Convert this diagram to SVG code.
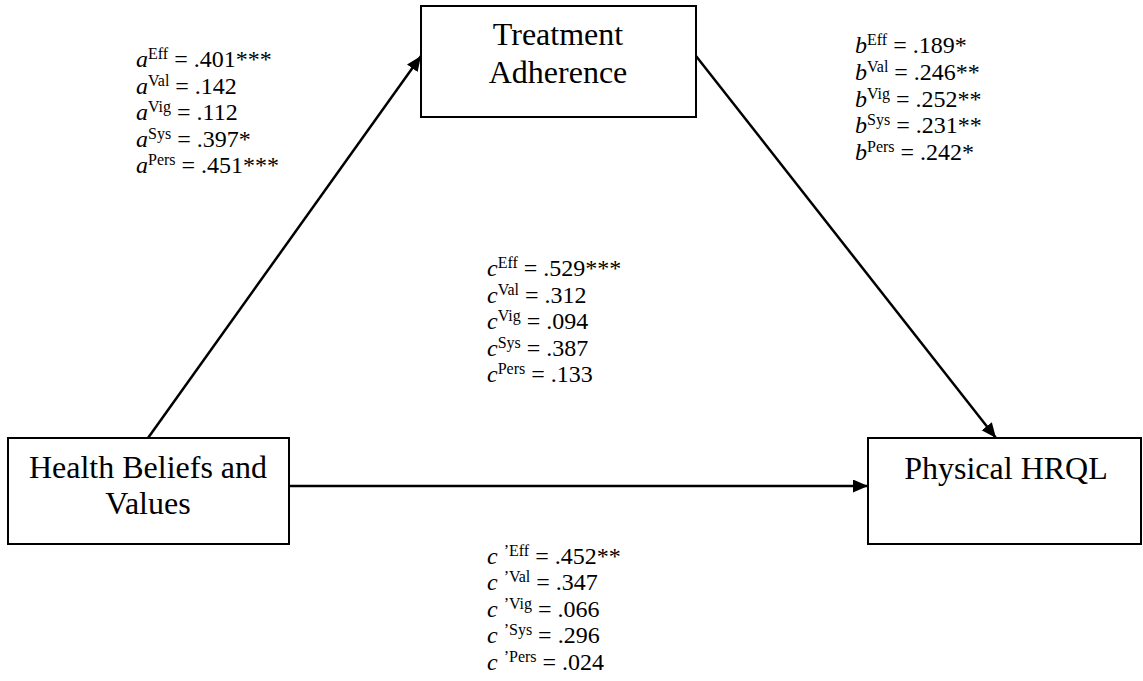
<svg xmlns="http://www.w3.org/2000/svg" width="1143" height="681" viewBox="0 0 1143 681">
<style>
.box{fill:#fff;stroke:#000;stroke-width:2}
.node{font-family:"Liberation Serif","Times New Roman",serif;font-size:32px;fill:#000;text-anchor:middle}
.lab{font-family:"Liberation Serif","Times New Roman",serif;font-size:24px;fill:#000}
.it{font-style:italic}
.sup{font-size:16px}
.edge{stroke:#000;stroke-width:2.5;fill:none;marker-end:url(#ah)}
</style>
<defs>
<marker id="ah" markerUnits="userSpaceOnUse" markerWidth="16" markerHeight="14" refX="15" refY="6.5" orient="auto">
<path d="M0,0 L15,6.5 L0,13 z" fill="#000"/>
</marker>
</defs>
<rect width="1143" height="681" fill="#fff"/>
<g id="connectors">
<line class="edge" x1="148" y1="438" x2="421" y2="56"/>
<line class="edge" x1="696" y1="56" x2="996" y2="438"/>
<line class="edge" x1="289" y1="486" x2="868" y2="486"/>
</g>
<g id="treatment">
<rect class="box" x="421" y="6" width="275" height="111"/>
<text class="node" x="558" y="45">Treatment</text>
<text class="node" x="558" y="83">Adherence</text>
</g>
<g id="health">
<rect class="box" x="8" y="438" width="281" height="106"/>
<text class="node" x="148" y="478">Health Beliefs and</text>
<text class="node" x="148" y="514">Values</text>
</g>
<g id="physical">
<rect class="box" x="868" y="438" width="273" height="106"/>
<text class="node" x="1006" y="479">Physical HRQL</text>
</g>
<g id="labels-a">
<text class="lab" x="136" y="67"><tspan class="it">a</tspan><tspan class="sup" dy="-8">Eff</tspan><tspan dy="8"> = .401***</tspan></text>
<text class="lab" x="136" y="94"><tspan class="it">a</tspan><tspan class="sup" dy="-8">Val</tspan><tspan dy="8"> = .142</tspan></text>
<text class="lab" x="136" y="120"><tspan class="it">a</tspan><tspan class="sup" dy="-8">Vig</tspan><tspan dy="8"> = .112</tspan></text>
<text class="lab" x="136" y="147"><tspan class="it">a</tspan><tspan class="sup" dy="-8">Sys</tspan><tspan dy="8"> = .397*</tspan></text>
<text class="lab" x="136" y="173"><tspan class="it">a</tspan><tspan class="sup" dy="-8">Pers</tspan><tspan dy="8"> = .451***</tspan></text>
</g>
<g id="labels-b">
<text class="lab" x="855" y="53"><tspan class="it">b</tspan><tspan class="sup" dy="-8">Eff</tspan><tspan dy="8"> = .189*</tspan></text>
<text class="lab" x="855" y="80"><tspan class="it">b</tspan><tspan class="sup" dy="-8">Val</tspan><tspan dy="8"> = .246**</tspan></text>
<text class="lab" x="855" y="107"><tspan class="it">b</tspan><tspan class="sup" dy="-8">Vig</tspan><tspan dy="8"> = .252**</tspan></text>
<text class="lab" x="855" y="133"><tspan class="it">b</tspan><tspan class="sup" dy="-8">Sys</tspan><tspan dy="8"> = .231**</tspan></text>
<text class="lab" x="855" y="160"><tspan class="it">b</tspan><tspan class="sup" dy="-8">Pers</tspan><tspan dy="8"> = .242*</tspan></text>
</g>
<g id="labels-c">
<text class="lab" x="487" y="276"><tspan class="it">c</tspan><tspan class="sup" dy="-8">Eff</tspan><tspan dy="8"> = .529***</tspan></text>
<text class="lab" x="487" y="303"><tspan class="it">c</tspan><tspan class="sup" dy="-8">Val</tspan><tspan dy="8"> = .312</tspan></text>
<text class="lab" x="487" y="329"><tspan class="it">c</tspan><tspan class="sup" dy="-8">Vig</tspan><tspan dy="8"> = .094</tspan></text>
<text class="lab" x="487" y="356"><tspan class="it">c</tspan><tspan class="sup" dy="-8">Sys</tspan><tspan dy="8"> = .387</tspan></text>
<text class="lab" x="487" y="382"><tspan class="it">c</tspan><tspan class="sup" dy="-8">Pers</tspan><tspan dy="8"> = .133</tspan></text>
</g>
<g id="labels-cprime">
<text class="lab" x="487" y="564"><tspan class="it">c</tspan><tspan> </tspan><tspan class="sup" dy="-8">’Eff</tspan><tspan dy="8"> = .452**</tspan></text>
<text class="lab" x="487" y="590"><tspan class="it">c</tspan><tspan> </tspan><tspan class="sup" dy="-8">’Val</tspan><tspan dy="8"> = .347</tspan></text>
<text class="lab" x="487" y="617"><tspan class="it">c</tspan><tspan> </tspan><tspan class="sup" dy="-8">’Vig</tspan><tspan dy="8"> = .066</tspan></text>
<text class="lab" x="487" y="643"><tspan class="it">c</tspan><tspan> </tspan><tspan class="sup" dy="-8">’Sys</tspan><tspan dy="8"> = .296</tspan></text>
<text class="lab" x="487" y="670"><tspan class="it">c</tspan><tspan> </tspan><tspan class="sup" dy="-8">’Pers</tspan><tspan dy="8"> = .024</tspan></text>
</g>
</svg>
